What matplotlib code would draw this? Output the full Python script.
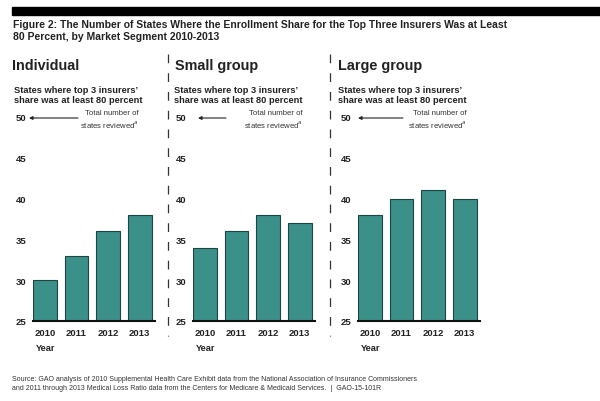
import matplotlib
matplotlib.use("Agg")
import matplotlib.pyplot as plt
from matplotlib.patches import Rectangle
from matplotlib.lines import Line2D

plt.rcParams['font.family'] = ['Liberation Sans', 'DejaVu Sans']

years = ["2010", "2011", "2012", "2013"]
segments = ["Individual", "Small group", "Large group"]
individual = [30, 33, 36, 38]
small_group = [34, 36, 38, 37]
large_group = [38, 40, 41, 40]
yticks = [25, 30, 35, 40, 45, 50]
title = ("Figure 2: The Number of States Where the Enrollment Share for the Top Three Insurers Was at Least\n"
         "80 Percent, by Market Segment 2010-2013")
subtitle = "States where top 3 insurers\u2019\nshare was at least 80 percent"
source = ("Source: GAO analysis of 2010 Supplemental Health Care Exhibit data from the National Association of Insurance Commissioners\n"
          "and 2011 through 2013 Medical Loss Ratio data from the Centers for Medicare & Medicaid Services.  |  GAO-15-101R")

W, H = 600, 402
fig = plt.figure(figsize=(W / 100, H / 100), dpi=100)

def fx(px):
    return px / W

def fy(py):
    return 1 - py / H

BAR = "#3b9189"
EDGE = "#1e4541"
TXT = "#222222"

# top black bar
fig.patches.append(Rectangle((fx(12), fy(16)), fx(600) - fx(12), fy(8) - fy(16),
                             transform=fig.transFigure, color="black"))
fig.text(fx(13), fy(31), title, ha="left", va="center", fontsize=7.5,
         fontweight="bold", color=TXT, linespacing=1.2)

axes_left = [33, 193, 358]
title_x = [12, 175, 338]
sub_x = [14, 174, 338]
arrow_tip = [29, 198, 358]
arrow_tail = [78, 226, 403]
note_right = [139, 303, 467]
data = [individual, small_group, large_group]

for i in range(3):
    ax = fig.add_axes([fx(axes_left[i]), fy(322), fx(122), fy(118) - fy(322)])
    x = list(range(len(years)))
    ax.bar(x, data[i], width=0.76, bottom=0, color=BAR, edgecolor=EDGE, linewidth=0.8, zorder=2)
    ax.set_xlim(-0.38, 3.49)
    ax.set_ylim(25, 50)
    ax.set_yticks(yticks)
    ax.set_xticks(x)
    ax.set_xticklabels(years)
    for s in ["top", "right", "left"]:
        ax.spines[s].set_visible(False)
    ax.spines["bottom"].set_linewidth(1.5)
    ax.spines["bottom"].set_color("#111111")
    ax.spines["bottom"].set_zorder(3)
    ax.tick_params(axis="both", length=0, labelsize=6.8, labelcolor=TXT)
    ax.tick_params(axis="y", pad=5)
    ax.tick_params(axis="x", pad=5)
    for lab in ax.get_xticklabels() + ax.get_yticklabels():
        lab.set_fontweight("bold")
    ax.patch.set_alpha(0)

    fig.text(fx(title_x[i]), fy(66), segments[i], ha="left", va="center",
             fontsize=10.4, fontweight="bold", color=TXT)
    fig.text(fx(sub_x[i]), fy(95.5), subtitle, ha="left", va="center",
             fontsize=6.7, fontweight="bold", color=TXT, linespacing=1.2)
    fig.text(fx(axes_left[i] + 3), fy(349), "Year", ha="left", va="center",
             fontsize=6.7, fontweight="bold", color=TXT)
    fig.text(fx(note_right[i]), fy(120), "Total number of\nstates reviewed$^{a}$",
             ha="right", va="center", fontsize=5.6, color="#333333", linespacing=1.25)
    ax.annotate("", xy=(fx(arrow_tip[i]), fy(119)), xytext=(fx(arrow_tail[i]), fy(119)),
                xycoords="figure fraction", textcoords="figure fraction",
                arrowprops=dict(arrowstyle="-|>", color="#222222", lw=0.8,
                                mutation_scale=5, shrinkA=0, shrinkB=0))

# dashed separators
for sx in [168, 330]:
    fig.lines.append(Line2D([fx(sx), fx(sx)], [fy(55), fy(337)], transform=fig.transFigure,
                            color="#333333", lw=0.9, linestyle=(0, (7, 8))))

fig.text(fx(12), fy(384), source, ha="left", va="center", fontsize=5.0,
         color="#333333", linespacing=1.35)

fig.savefig("out.png", dpi=100)
